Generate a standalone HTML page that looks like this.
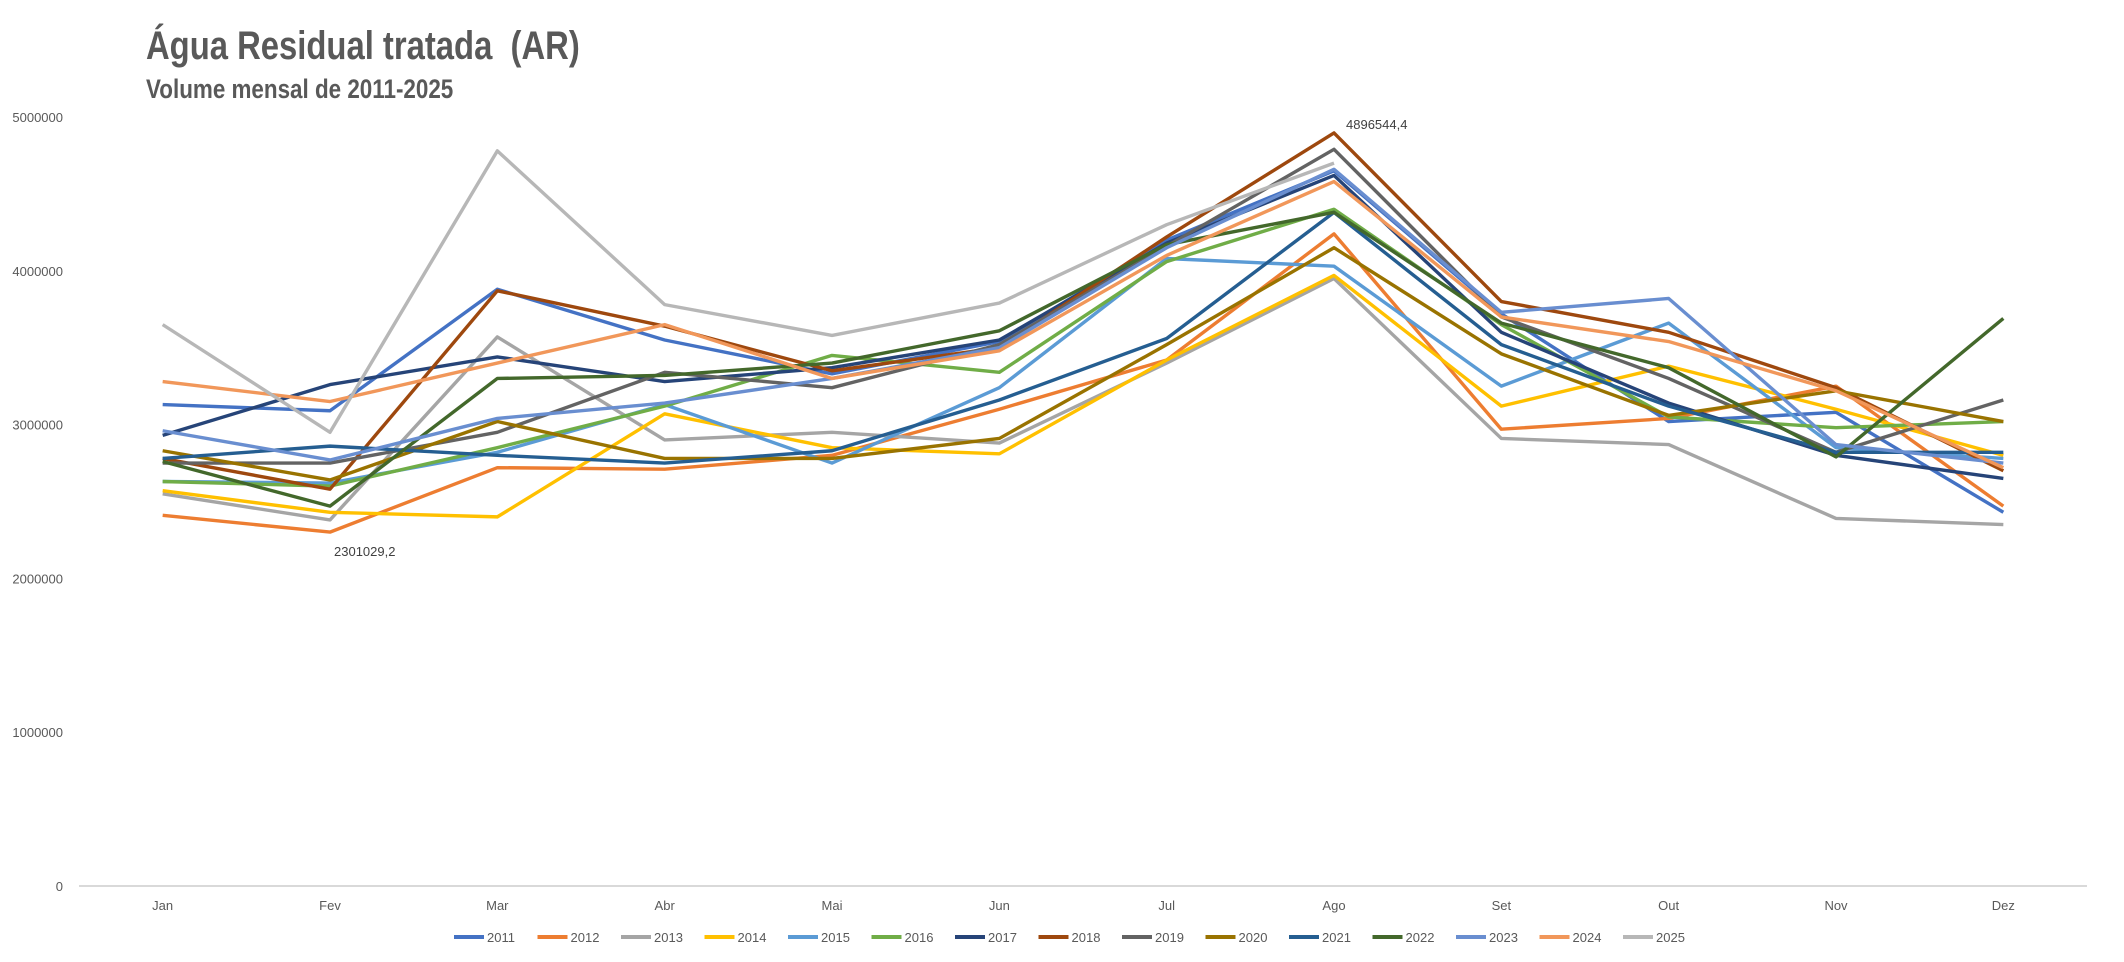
<!DOCTYPE html>
<html><head><meta charset="utf-8"><style>
body{margin:0;background:#fff;width:2124px;height:962px;overflow:hidden;font-family:"Liberation Sans",sans-serif}
#t{position:absolute;left:146px;top:24px;font-size:40px;font-weight:bold;color:#595959;transform:scaleX(0.82);transform-origin:0 0;white-space:nowrap}
#st{position:absolute;left:146px;top:74px;font-size:27px;font-weight:bold;color:#595959;transform:scaleX(0.83);transform-origin:0 0;white-space:nowrap}
</style></head><body>
<div id="t">Água Residual tratada &nbsp;(AR)</div>
<div id="st">Volume mensal de 2011-2025</div>
<svg id="c" width="2124" height="962" style="position:absolute;left:0;top:0"></svg>
<script>
const months=["Jan","Fev","Mar","Abr","Mai","Jun","Jul","Ago","Set","Out","Nov","Dez"];
const yTicks=[0,1000000,2000000,3000000,4000000,5000000];
const years=["2011","2012","2013","2014","2015","2016","2017","2018","2019","2020","2021","2022","2023","2024","2025"];
const colors=["#4472C4","#ED7D31","#A5A5A5","#FFC000","#5B9BD5","#70AD47","#264478","#9E480E","#636363","#997300","#255E91","#43682B","#698ED0","#F1975A","#B7B7B7"];
const s2011=[3.13,3.09,3.88,3.55,3.33,3.54,4.2,4.65,3.72,3.02,3.08,2.43];
const s2012=[2.41,2.301029,2.72,2.71,2.8,3.1,3.42,4.24,2.97,3.04,3.25,2.47];
const s2013=[2.55,2.38,3.57,2.9,2.95,2.88,3.4,3.95,2.91,2.87,2.39,2.35];
const s2014=[2.57,2.43,2.4,3.07,2.85,2.81,3.42,3.97,3.12,3.38,3.1,2.8];
const s2015=[2.63,2.62,2.82,3.13,2.75,3.24,4.08,4.03,3.25,3.66,2.85,2.78];
const s2016=[2.63,2.6,2.85,3.12,3.45,3.34,4.06,4.4,3.65,3.05,2.98,3.02];
const s2017=[2.93,3.26,3.44,3.28,3.37,3.55,4.18,4.62,3.6,3.14,2.8,2.65];
const s2018=[2.78,2.58,3.87,3.64,3.35,3.5,4.22,4.8965444,3.8,3.6,3.24,2.7];
const s2019=[2.75,2.75,2.95,3.34,3.24,3.52,4.16,4.79,3.7,3.3,2.82,3.16];
const s2020=[2.83,2.64,3.02,2.78,2.78,2.91,3.52,4.15,3.46,3.06,3.22,3.02];
const s2021=[2.78,2.86,2.8,2.75,2.83,3.16,3.56,4.38,3.52,3.12,2.82,2.82];
const s2022=[2.76,2.47,3.3,3.32,3.4,3.61,4.17,4.38,3.66,3.37,2.79,3.69];
const s2023=[2.96,2.77,3.04,3.14,3.3,3.5,4.15,4.66,3.73,3.82,2.87,2.75];
const s2024=[3.28,3.15,3.4,3.65,3.3,3.48,4.1,4.58,3.7,3.54,3.22,2.72];
const s2025=[3.65,2.95,4.78,3.78,3.58,3.79,4.3,4.7];
const series=[s2011,s2012,s2013,s2014,s2015,s2016,s2017,s2018,s2019,s2020,s2021,s2022,s2023,s2024,s2025];
const NS="http://www.w3.org/2000/svg",svg=document.getElementById('c');
const X0=79,X1=2087,Y0=886,Y5=117;
const x=i=>X0+(X1-X0)*(i+0.5)/12;
const y=v=>Y0-(Y0-Y5)*v/5000000;
function mk(t,a,p){const e=document.createElementNS(NS,t);for(const k in a)e.setAttribute(k,a[k]);(p||svg).appendChild(e);return e;}
yTicks.forEach(v=>{const e=mk('text',{x:63,y:y(v)+5,'text-anchor':'end','font-size':13,fill:'#595959'});e.textContent=v;

});
const ax=mk('line',{x1:X0,x2:X1,y1:Y0,y2:Y0,stroke:'#d9d9d9','stroke-width':2});


months.forEach((m,i)=>{const e=mk('text',{x:x(i),y:910,'text-anchor':'middle','font-size':13,fill:'#595959'});e.textContent=m;

});
series.forEach((s,k)=>{const pts=s.map((v,i)=>x(i)+','+y(v*1000000)).join(' ');
const l=mk('polyline',{points:pts,fill:'none',stroke:colors[k],'stroke-width':3.4,'stroke-linejoin':'round'});

});
const a1=mk('text',{x:x(7)+12,y:y(4896544.4)-4,'font-size':13,fill:'#404040'});a1.textContent='4896544,4';


const a2=mk('text',{x:x(1)+4,y:y(2301029.2)+24,'font-size':13,fill:'#404040'});a2.textContent='2301029,2';


years.forEach((yr,k)=>{const lx=454+k*83.5;const g=mk('g',{});


mk('line',{x1:lx,x2:lx+30,y1:937,y2:937,stroke:colors[k],'stroke-width':4},g);
const t=mk('text',{x:lx+33,y:942,'font-size':13,fill:'#595959'},g);t.textContent=yr;});
</script>
</body></html>
